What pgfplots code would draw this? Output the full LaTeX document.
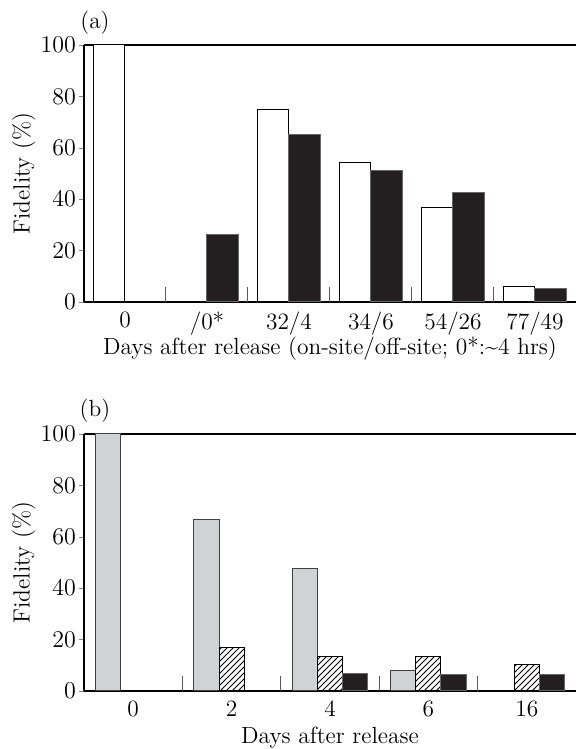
\documentclass[border=0pt]{standalone}
\usepackage{pgfplots}
\pgfplotsset{compat=1.18}
\usetikzlibrary{patterns}
\definecolor{barblack}{RGB}{35,31,32}
\definecolor{bargray}{RGB}{209,210,212}
\definecolor{sepgray}{RGB}{90,90,90}
\newcommand{\ff}{\fontsize{11.7}{14}\selectfont}
\begin{document}
\ff
\begin{tikzpicture}
\useasboundingbox (0,0) rectangle (288pt,374.5pt);
\pgfplotsset{
  common/.style={
    scale only axis, width=246pt, height=128.5pt,
    anchor=south west, clip=false,
    axis x line*=box, axis y line*=left,
    xtick pos=bottom, ytick pos=left,
    ymin=0, ymax=100, ytick={0,20,...,100},
    tick align=outside, major tick length=2.5pt,
    xtick style={draw=none},
    axis line style={line width=0.6pt},
    ylabel={Fidelity (\%)},
    ylabel shift=-5.5pt,
    xticklabel style={yshift=1.5pt},
    yticklabel style={xshift=2.5pt},
    tick label style={font=\ff},
    label style={font=\ff},
  },
}
\begin{axis}[common, at={(42pt,223.5pt)},
  xmin=-0.5, xmax=5.5,
  xtick={0,1,2,3,4,5},
  xticklabels={0,/0*,32/4,34/6,54/26,77/49},
  xlabel={Days after release (on-site/off-site; 0*:\textasciitilde4 hrs)},
  xlabel style={yshift=7.5pt},
]
\addplot[ycomb, no marks, draw=sepgray, line width=0.5pt] coordinates {(0.5,6)(1.5,6)(2.5,6)(3.5,6)(4.5,6)};
\addplot[ybar, bar width=0.39, bar shift=-0.195, fill=white, draw=black, line width=0.5pt] coordinates {(0,100)(2,75)(3,54.3)(4,36.9)(5,6.1)};
\addplot[ybar, bar width=0.39, bar shift=0.195, fill=barblack, draw=black!60, line width=0.5pt] coordinates {(1,26.2)(2,65.3)(3,51.3)(4,42.5)(5,5.1)};
\node[font=\ff] at ([xshift=5.5pt,yshift=11pt]rel axis cs:0,1) {(a)};
\end{axis}
\begin{axis}[common, at={(42pt,29pt)},
  xmin=-0.5, xmax=4.5,
  xtick={0,1,2,3,4},
  xticklabels={0,2,4,6,16},
  xlabel={Days after release},
  xlabel style={yshift=3pt},
]
\addplot[ycomb, no marks, draw=sepgray, line width=0.5pt] coordinates {(0.5,6)(1.5,6)(2.5,6)(3.5,6)};
\addplot[ybar, bar width=0.255, bar shift=-0.255, fill=bargray, draw=black!75, line width=0.5pt] coordinates {(0,100)(1,66.9)(2,47.7)(3,7.8)};
\addplot[ybar, bar width=0.255, bar shift=0, fill=white, draw=black, line width=0.5pt, postaction={pattern=north east lines}] coordinates {(1,17.0)(2,13.6)(3,13.6)(4,10.4)};
\addplot[ybar, bar width=0.255, bar shift=0.255, fill=barblack, draw=black!60, line width=0.5pt] coordinates {(2,6.7)(3,6.5)(4,6.5)};
\node[font=\ff] at ([xshift=5.5pt,yshift=11.5pt]rel axis cs:0,1) {(b)};
\end{axis}
\end{tikzpicture}
\end{document}
